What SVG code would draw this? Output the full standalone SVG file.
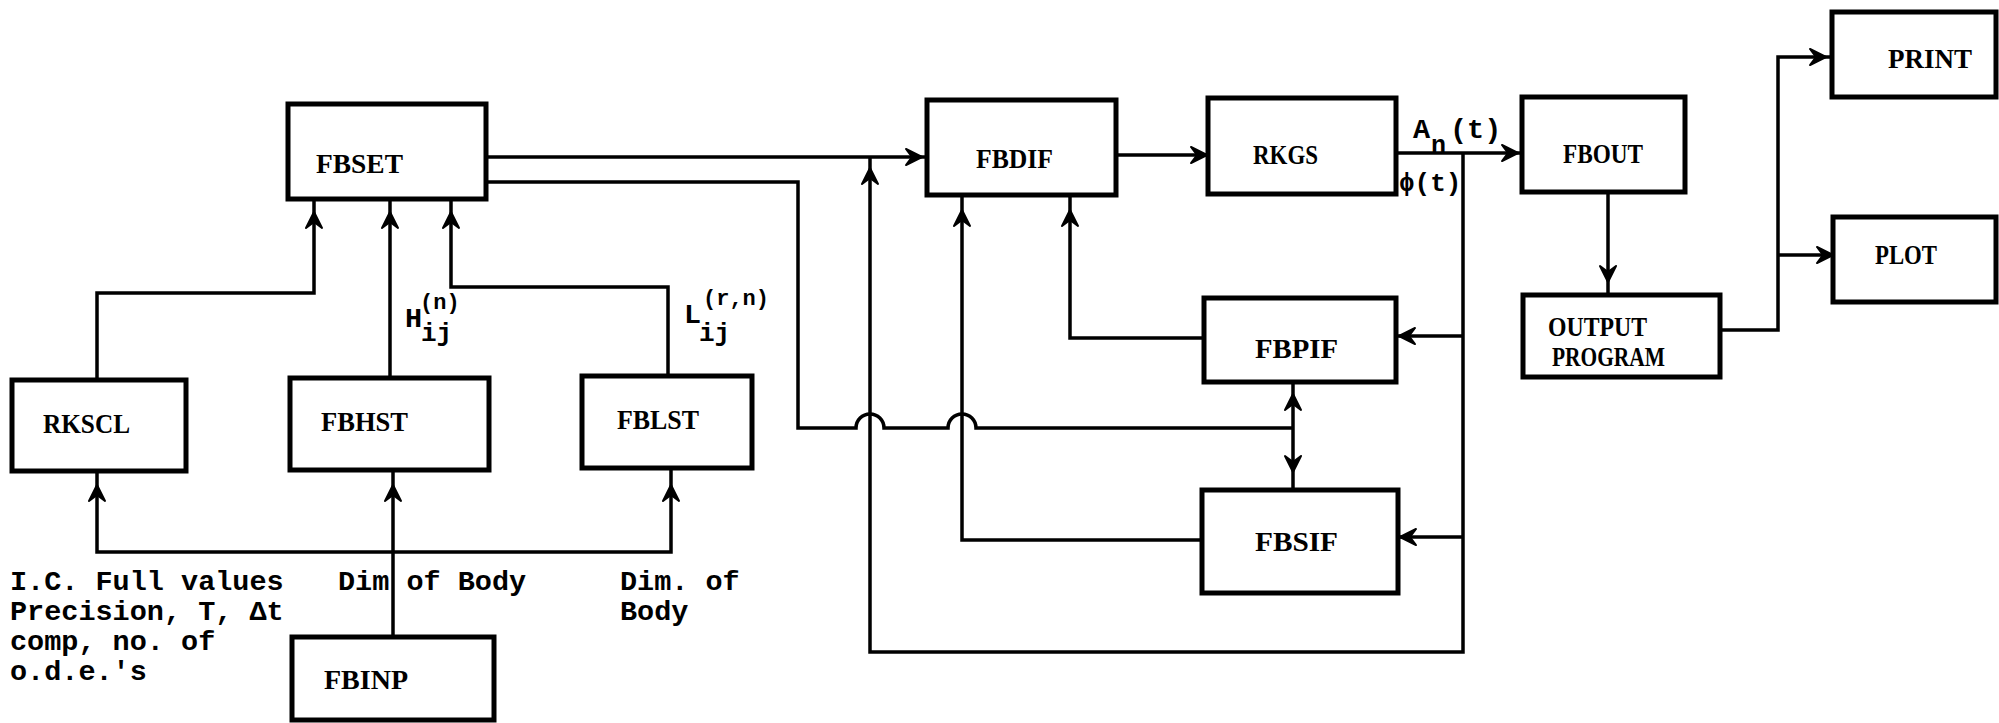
<svg xmlns="http://www.w3.org/2000/svg" xmlns:xlink="http://www.w3.org/1999/xlink" width="1999" height="723" viewBox="0 0 1999 723">
<style>
.box{fill:#fff;stroke:#000;stroke-width:5}
.lbl{font-family:"Liberation Serif",serif;font-weight:bold;font-size:27px;fill:#000}
.tt{font-family:"Liberation Mono","DejaVu Sans Mono",monospace;font-weight:bold;font-size:28.5px;fill:#000}
.sm{font-family:"Liberation Mono","DejaVu Sans Mono",monospace;font-weight:bold;font-size:22px;fill:#000}
.ln{fill:none;stroke:#000;stroke-width:3.5;stroke-linejoin:miter}
</style>
<defs>
<path id="ah" d="M0,0 L-16,-8 L-10,0 L-16,8 Z" fill="#000" stroke="#000" stroke-width="2" stroke-linejoin="round"/>
</defs>
<rect width="1999" height="723" fill="#fff"/>
<g id="connectors">
<path class="ln" d="M97,380 V293 H314 V198"/>
<path class="ln" d="M390,378 V198"/>
<path class="ln" d="M668,376 V287 H451 V198"/>
<path class="ln" d="M393,637 V470"/>
<path class="ln" d="M97,471 V552 H671 V468"/>
<path class="ln" d="M486,157 H927"/>
<path class="ln" d="M486,182 H798 V428 H856 A14,14 0 0 1 884,428 H948 A14,14 0 0 1 976,428 H1293"/>
<path class="ln" d="M1293,382 V490"/>
<path class="ln" d="M1396,153 H1522"/>
<path class="ln" d="M1463,153 V652 H870 V157"/>
<path class="ln" d="M1204,338 H1070 V195"/>
<path class="ln" d="M1202,540 H962 V195"/>
<path class="ln" d="M1463,336 H1397"/>
<path class="ln" d="M1463,537 H1399"/>
<path class="ln" d="M1116,155 H1208"/>
<path class="ln" d="M1608,192 V295"/>
<path class="ln" d="M1720,330 H1778 V57 H1832"/>
<path class="ln" d="M1778,255 H1833"/>
<use xlink:href="#ah" transform="translate(314,212) rotate(-90)"/>
<use xlink:href="#ah" transform="translate(390,212) rotate(-90)"/>
<use xlink:href="#ah" transform="translate(451,212) rotate(-90)"/>
<use xlink:href="#ah" transform="translate(97,485) rotate(-90)"/>
<use xlink:href="#ah" transform="translate(393,485) rotate(-90)"/>
<use xlink:href="#ah" transform="translate(671,485) rotate(-90)"/>
<use xlink:href="#ah" transform="translate(922,157)"/>
<use xlink:href="#ah" transform="translate(870,168) rotate(-90)"/>
<use xlink:href="#ah" transform="translate(1207,155)"/>
<use xlink:href="#ah" transform="translate(962,210) rotate(-90)"/>
<use xlink:href="#ah" transform="translate(1070,210) rotate(-90)"/>
<use xlink:href="#ah" transform="translate(1399,336) rotate(180)"/>
<use xlink:href="#ah" transform="translate(1400,537) rotate(180)"/>
<use xlink:href="#ah" transform="translate(1293,394) rotate(-90)"/>
<use xlink:href="#ah" transform="translate(1293,472) rotate(90)"/>
<use xlink:href="#ah" transform="translate(1518,153)"/>
<use xlink:href="#ah" transform="translate(1608,282) rotate(90)"/>
<use xlink:href="#ah" transform="translate(1826,57)"/>
<use xlink:href="#ah" transform="translate(1833,255)"/>
</g>
<g id="labels">
<text class="tt" x="405" y="327">H</text>
<text class="sm" x="420" y="309">(n)</text>
<text class="sm" x="421" y="341" style="font-size:26px">ij</text>
<text class="tt" x="684" y="323">L</text>
<text class="sm" x="703" y="305">(r,n)</text>
<text class="sm" x="699" y="341" style="font-size:26px">ij</text>
<text class="tt" x="1413" y="138">A</text>
<text class="sm" x="1431" y="153" style="font-size:25px">n</text>
<text class="tt" x="1450" y="138">(t)</text>
<text class="sm" x="1399" y="191" style="font-size:26px">ϕ(t)</text>
<text class="tt" x="10" y="590">I.C. Full values</text>
<text class="tt" x="10" y="620">Precision, T, Δt</text>
<text class="tt" x="10" y="650">comp, no. of</text>
<text class="tt" x="10" y="680">o.d.e.'s</text>
<text class="tt" x="338" y="590">Dim of Body</text>
<text class="tt" x="620" y="590">Dim. of</text>
<text class="tt" x="620" y="620">Body</text>
</g>
<g id="FBSET"><rect class="box" x="288" y="104" width="198" height="95"/><text class="lbl" x="316" y="173" textLength="87" lengthAdjust="spacingAndGlyphs">FBSET</text></g>
<g id="RKSCL"><rect class="box" x="12" y="380" width="174" height="91"/><text class="lbl" x="43" y="433" textLength="87" lengthAdjust="spacingAndGlyphs">RKSCL</text></g>
<g id="FBHST"><rect class="box" x="290" y="378" width="199" height="92"/><text class="lbl" x="321" y="431" textLength="87" lengthAdjust="spacingAndGlyphs">FBHST</text></g>
<g id="FBLST"><rect class="box" x="582" y="376" width="170" height="92"/><text class="lbl" x="617" y="429" textLength="82" lengthAdjust="spacingAndGlyphs">FBLST</text></g>
<g id="FBINP"><rect class="box" x="292" y="637" width="202" height="83"/><text class="lbl" x="324" y="689" textLength="84" lengthAdjust="spacingAndGlyphs">FBINP</text></g>
<g id="FBDIF"><rect class="box" x="927" y="100" width="189" height="95"/><text class="lbl" x="976" y="168" textLength="77" lengthAdjust="spacingAndGlyphs">FBDIF</text></g>
<g id="RKGS"><rect class="box" x="1208" y="98" width="188" height="96"/><text class="lbl" x="1253" y="164" textLength="65" lengthAdjust="spacingAndGlyphs">RKGS</text></g>
<g id="FBPIF"><rect class="box" x="1204" y="298" width="192" height="84"/><text class="lbl" x="1255" y="358" textLength="83" lengthAdjust="spacingAndGlyphs">FBPIF</text></g>
<g id="FBSIF"><rect class="box" x="1202" y="490" width="196" height="103"/><text class="lbl" x="1255" y="551" textLength="83" lengthAdjust="spacingAndGlyphs">FBSIF</text></g>
<g id="FBOUT"><rect class="box" x="1522" y="97" width="163" height="95"/><text class="lbl" x="1563" y="163" textLength="80" lengthAdjust="spacingAndGlyphs">FBOUT</text></g>
<g id="OUTPUT_PROGRAM"><rect class="box" x="1523" y="295" width="197" height="82"/><text class="lbl" x="1548" y="336" textLength="99" lengthAdjust="spacingAndGlyphs">OUTPUT</text><text class="lbl" x="1552" y="366" textLength="113" lengthAdjust="spacingAndGlyphs">PROGRAM</text></g>
<g id="PRINT"><rect class="box" x="1832" y="12" width="164" height="85"/><text class="lbl" x="1888" y="68" textLength="84" lengthAdjust="spacingAndGlyphs">PRINT</text></g>
<g id="PLOT"><rect class="box" x="1833" y="217" width="163" height="85"/><text class="lbl" x="1875" y="264" textLength="62" lengthAdjust="spacingAndGlyphs">PLOT</text></g>
</svg>
